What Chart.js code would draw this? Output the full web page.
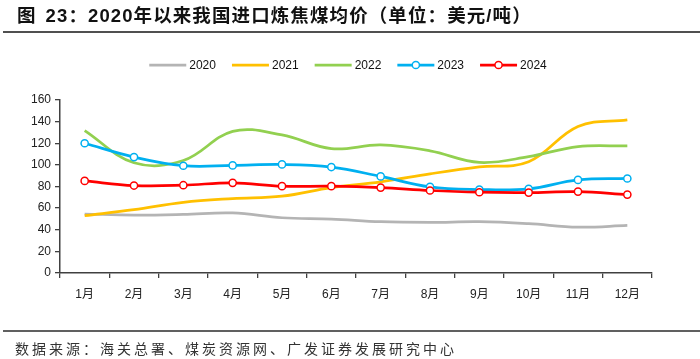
<!DOCTYPE html>
<html>
<head>
<meta charset="utf-8">
<script src="https://cdn.jsdelivr.net/npm/chart.js@4"></script>
<style>
  html, body { margin: 0; padding: 0; background: #fff; }
  #wrap { position: relative; width: 700px; height: 359px; overflow: hidden; }
  #c { position: absolute; left: 0; top: 0; }
  .title { position: absolute; left: 17px; top: 4px; font-family: "Liberation Sans", "Noto Sans CJK SC", sans-serif; font-weight: bold; font-size: 18.5px; line-height: 24px; letter-spacing: 1.1px; color: #111; white-space: nowrap; }
  .title .fig { margin-right: 9px; }
  .rule1 { position: absolute; left: 3px; right: 0; top: 31px; height: 2px; background: #505050; }
  .rule2 { position: absolute; left: 3px; right: 0; top: 330px; height: 2px; background: #606060; }
  .src { position: absolute; left: 15px; top: 338px; font-family: "Noto Sans CJK SC", sans-serif; font-size: 14px; line-height: 20px; letter-spacing: 3px; color: #333; white-space: nowrap; }
</style>
</head>
<body>
<div id="wrap">
  <canvas id="c" width="700" height="359"></canvas>
  <div class="title"><span class="fig">图</span>23：2020年以来我国进口炼焦煤均价（单位：美元/吨）</div>
  <div class="rule1"></div>
  <div class="rule2"></div>
  <div class="src">数据来源：海关总署、煤炭资源网、广发证券发展研究中心</div>
</div>
<script>
const months = ['1月','2月','3月','4月','5月','6月','7月','8月','9月','10月','11月','12月'];
const seriesNames = ['2020','2021','2022','2023','2024'];
const s2020 = [54.5, 53.6, 54.2, 55.5, 51.1, 49.9, 47.4, 46.8, 47.4, 45.6, 42.4, 44.0];
const s2021 = [53.0, 58.6, 65.4, 68.8, 71.0, 79.0, 84.3, 91.7, 98.2, 102.9, 135.5, 141.7];
const s2022 = [131.7, 102.0, 104.0, 131.0, 127.7, 115.0, 118.4, 113.0, 102.3, 107.6, 116.9, 117.5];
const s2023 = [120.0, 107.2, 99.2, 99.5, 100.4, 98.0, 89.3, 79.6, 77.2, 77.8, 86.1, 87.4];
const s2024 = [85.2, 80.9, 81.2, 83.4, 80.3, 80.3, 79.0, 76.3, 74.7, 74.4, 75.3, 72.5];
const yTicks = [0, 20, 40, 60, 80, 100, 120, 140, 160];

const colors = ['#B4B4B4', '#FFC000', '#92D050', '#00B0F0', '#FF0000'];
const values = [s2020, s2021, s2022, s2023, s2024];
const withPoints = [false, false, false, true, true];

const datasets = seriesNames.map((n, i) => ({
  label: n,
  data: values[i],
  borderColor: colors[i],
  backgroundColor: '#ffffff',
  borderWidth: 2.75,
  tension: 0.38,
  pointRadius: withPoints[i] ? 3.6 : 0,
  pointBorderWidth: 1.5,
  pointBorderColor: colors[i],
  pointBackgroundColor: '#ffffff',
  order: 4 - i,
  fill: false
}));

const legendPlugin = {
  id: 'customLegend',
  afterDraw(chart) {
    const ctx = chart.ctx;
    ctx.save();
    ctx.font = '12px "Liberation Sans", Arial, sans-serif';
    ctx.textBaseline = 'middle';
    const lineLen = 37, gap1 = 3, gap2 = 16;
    const ds = chart.data.datasets;
    let total = 0;
    const widths = ds.map(d => ctx.measureText(d.label).width);
    widths.forEach((w, i) => { total += lineLen + gap1 + w + (i < ds.length - 1 ? gap2 : 0); });
    let x = 348 - total / 2;
    const y = 65;
    ds.forEach((d, i) => {
      ctx.strokeStyle = d.borderColor;
      ctx.lineWidth = 2.75;
      ctx.beginPath();
      ctx.moveTo(x, y);
      ctx.lineTo(x + lineLen, y);
      ctx.stroke();
      if (d.pointRadius > 0) {
        ctx.beginPath();
        ctx.arc(x + lineLen / 2, y, 3.6, 0, Math.PI * 2);
        ctx.fillStyle = '#fff';
        ctx.fill();
        ctx.lineWidth = 1.5;
        ctx.stroke();
      }
      ctx.fillStyle = '#111';
      ctx.textAlign = 'left';
      ctx.fillText(d.label, x + lineLen + gap1, y + 1);
      x += lineLen + gap1 + widths[i] + gap2;
    });
    ctx.restore();
  }
};

new Chart(document.getElementById('c'), {
  type: 'line',
  data: { labels: months, datasets },
  options: {
    responsive: false,
    animation: false,
    devicePixelRatio: 1,
    layout: { padding: { left: 0, right: 48, top: 100, bottom: 0 } },
    plugins: { legend: { display: false }, title: { display: false }, tooltip: { enabled: false } },
    scales: {
      x: {
        offset: true,
        grid: { offset: true, drawOnChartArea: false, drawTicks: true, tickLength: 5, color: '#404040', lineWidth: 1.3 },
        border: { display: true, color: '#404040', width: 1.5 },
        ticks: { color: '#222', font: { family: '"Liberation Sans", "Noto Sans CJK SC", sans-serif', size: 12 }, padding: 9, maxRotation: 0, autoSkip: false },
        afterFit(s) { s.height = 86; }
      },
      y: {
        min: 0, max: 160,
        afterBuildTicks(s) { s.ticks = yTicks.map(v => ({ value: v })); },
        grid: { drawOnChartArea: false, drawTicks: true, tickLength: 5, color: '#404040', lineWidth: 1.3 },
        border: { display: true, color: '#404040', width: 1.5 },
        ticks: { color: '#222', font: { family: '"Liberation Sans", sans-serif', size: 12 }, padding: 4 },
        afterFit(s) { s.width = 60; }
      }
    }
  },
  plugins: [legendPlugin]
});
</script>
</body>
</html>
